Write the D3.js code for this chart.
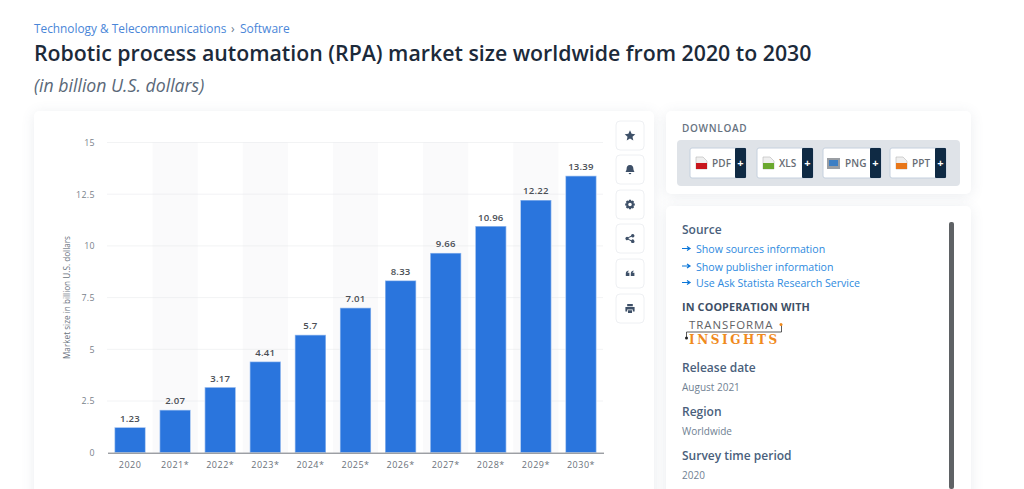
<!DOCTYPE html>
<html><head><meta charset="utf-8">
<script src="https://cdn.jsdelivr.net/npm/d3@7"></script>
<style>
html,body{margin:0;padding:0;background:#fff;overflow:hidden}
body{width:1024px;height:489px;position:relative;font-family:"Open Sans",sans-serif}
.card{position:absolute;background:#fff;border-radius:5px;box-shadow:0 2px 14px rgba(70,90,120,.11)}
svg{position:absolute;left:0;top:0}
text{font-family:"Open Sans",sans-serif}
</style></head><body>
<script>
const categories=["2020","2021*","2022*","2023*","2024*","2025*","2026*","2027*","2028*","2029*","2030*"];
const values=[1.23,2.07,3.17,4.41,5.7,7.01,8.33,9.66,10.96,12.22,13.39];
const valueLabels=["1.23","2.07","3.17","4.41","5.7","7.01","8.33","9.66","10.96","12.22","13.39"];
const yTicks=[0,2.5,5,7.5,10,12.5,15];
const downloads=[["PDF","#c8161d"],["XLS","#6aa82f"],["PNG","#3d7fc4"],["PPT","#e8771a"]];
const sourceLinks=["Show sources information","Show publisher information","Use Ask Statista Research Service"];

const body=d3.select("body");
[[34,111,620,400],[666,111,305,83],[666,206,305,300]].forEach(([x,y,w,h])=>{
  body.append("div").attr("class","card").style("left",x+"px").style("top",y+"px").style("width",w+"px").style("height",h+"px");
});
const svg=body.append("svg").attr("width",1024).attr("height",489);
const T=(x,y,s,size,fill,o={})=>svg.append("text").attr("x",x).attr("y",y).text(s)
  .attr("font-size",size).attr("fill",fill).attr("font-weight",o.w||400).attr("font-style",o.i||"normal")
  .attr("letter-spacing",o.ls||0).attr("text-anchor",o.a||"start");

T(34,33,"Technology & Telecommunications",11.85,"#4a86d8");
T(231,33,"›",12,"#6a7a8c");
T(240,33,"Software",12,"#4a86d8");
T(34,61,"Robotic process automation (RPA) market size worldwide from 2020 to 2030",21.3,"#1c2a3a",{w:600});
T(34,92,"(in billion U.S. dollars)",17.7,"#5a6878",{i:"italic"});

const x=d3.scaleBand().domain(categories).range([107.5,603.5]).paddingInner(0.31).paddingOuter(0.155);
const y=d3.scaleLinear().domain([0,15]).range([452.7,142.5]);
const band=x.step();
categories.forEach((c,i)=>{ if(i%2===1)
  svg.append("rect").attr("x",x(c)-band*0.155).attr("y",y(15)).attr("width",band).attr("height",y(0)-y(15)).attr("fill","#fafafb");
});
const g=svg.append("g");
const yAxis=d3.axisLeft(y).tickValues(yTicks).tickSize(0).tickPadding(0).tickFormat(d=>String(d));
const ya=g.append("g").attr("transform","translate(95,0)").call(yAxis);
ya.select(".domain").remove();
ya.selectAll("text").attr("font-size",8.8).attr("fill","#7a828c").attr("letter-spacing",.4).style("font-family",'"Open Sans",sans-serif');
g.selectAll("line.grid").data(yTicks.filter(d=>d>0)).join("line").attr("class","grid")
  .attr("x1",107.5).attr("x2",603.5).attr("y1",d=>y(d)).attr("y2",d=>y(d)).attr("stroke","#e4e6e9").attr("stroke-width",1).attr("stroke-dasharray","1 1");
g.selectAll("rect.bar").data(values).join("rect").attr("class","bar")
  .attr("x",(d,i)=>x(categories[i])).attr("width",x.bandwidth()).attr("y",d=>y(d)).attr("height",d=>y(0)-y(d)).attr("fill","#2a75dd")
  .attr("stroke","#fff").attr("stroke-opacity",.5).attr("stroke-width",1.4);
const xAxis=d3.axisBottom(x).tickSize(0).tickPadding(9);
const xa=g.append("g").attr("transform",`translate(0,${y(0)})`).call(xAxis);
xa.select(".domain").attr("stroke","#70757c").attr("stroke-width",1);
xa.selectAll("text").attr("font-size",9).attr("fill","#6a717a").attr("letter-spacing",.5).style("font-family",'"Open Sans",sans-serif');
g.selectAll("text.val").data(values).join("text").attr("class","val")
  .attr("x",(d,i)=>x(categories[i])+x.bandwidth()/2).attr("y",d=>y(d)-5.5).attr("text-anchor","middle")
  .attr("font-size",9.6).attr("font-weight",600).attr("fill","#4b4f56").attr("letter-spacing",.2).text((d,i)=>valueLabels[i]);
svg.append("text").attr("transform","translate(70,297.5) rotate(-90)").attr("text-anchor","middle")
  .attr("font-size",8.2).attr("fill","#6b7480").text("Market size in billion U.S. dollars");

const icons=[
 "M0 -5.2L1.6 -1.7L5.3 -1.3L2.5 1.2L3.3 5L0 3L-3.3 5L-2.5 1.2L-5.3 -1.3L-1.6 -1.7Z",
 "M0 -4.6C2.6 -4.6 3.4 -2.6 3.4 -.6C3.4 1 4.4 1.6 4.4 2.6H-4.4C-4.4 1.6 -3.4 1 -3.4 -.6C-3.4 -2.6 -2.6 -4.6 0 -4.6ZM-1.3 3.4H1.3A1.3 1.3 0 0 1 -1.3 3.4Z",
 "M-1 -4.8H1L1.3 -3.4L2.8 -4.1L4.1 -2.8L3.4 -1.3L4.8 -1V1L3.4 1.3L4.1 2.8L2.8 4.1L1.3 3.4L1 4.8H-1L-1.3 3.4L-2.8 4.1L-4.1 2.8L-3.4 1.3L-4.8 1V-1L-3.4 -1.3L-4.1 -2.8L-2.8 -4.1L-1.3 -3.4ZM0 -1.8A1.8 1.8 0 1 0 0 1.8A1.8 1.8 0 1 0 0 -1.8Z",
 "M2.8 -4.4A1.7 1.7 0 1 1 1.4 -1.7L-1.3 -.4A1.7 1.7 0 0 1 -1.3 .4L1.4 1.7A1.7 1.7 0 1 1 1 2.7L-1.8 1.3A1.7 1.7 0 1 1 -1.8 -1.3L1 -2.7A1.7 1.7 0 0 1 2.8 -4.4Z",
 "M-4.2 .2C-4.2 -1.6 -3.2 -2.6 -1.6 -3L-1.3 -2.2C-2 -1.9 -2.4 -1.4 -2.4 -.8H-.6V2.4H-4.2ZM.8 .2C.8 -1.6 1.8 -2.6 3.4 -3L3.7 -2.2C3 -1.9 2.6 -1.4 2.6 -.8H4.4V2.4H.8Z",
 "M-2.8 -4.6H2.8V-2.2H-2.8ZM-4.6 -1.4H4.6V3H2.8V1H-2.8V3H-4.6ZM-2 1.8H2V4.6H-2Z"];
const iconY=[136,170,205,239,274,309];
icons.forEach((d,i)=>{
  svg.append("rect").attr("x",616).attr("y",iconY[i]-15).attr("width",28).attr("height",29).attr("rx",4).attr("fill","#fff")
    .attr("stroke","#eef0f3").attr("stroke-width",1);
  svg.append("path").attr("d",d).attr("transform",`translate(630,${iconY[i]-.5})`).attr("fill","#3e5068").attr("fill-rule","evenodd");
});

T(682,132,"DOWNLOAD",10,"#66727f",{w:600,ls:.7});
svg.append("rect").attr("x",677).attr("y",140).attr("width",283).attr("height",46).attr("rx",4).attr("fill","#dfe3e8");
const bx=[690,757,823,890], bw=[56,56,58,56];
downloads.forEach(([lab,col],i)=>{
  const X=bx[i],W=bw[i];
  svg.append("rect").attr("x",X).attr("y",148).attr("width",W).attr("height",30).attr("rx",2).attr("fill","#fff").attr("stroke","#c5d0de");
  svg.append("rect").attr("x",X+W-11).attr("y",148).attr("width",11).attr("height",30).attr("rx",1).attr("fill","#0f2a44");
  T(X+W-5.5,166.5,"+",11,"#fff",{a:"middle",w:700});
  if(lab==="PNG"){
    svg.append("rect").attr("x",X+4).attr("y",158).attr("width",13).attr("height",11).attr("fill","#9a9ea3");
    svg.append("rect").attr("x",X+6).attr("y",160).attr("width",9).attr("height",6).attr("fill",col);
  }else{
    svg.append("path").attr("d",`M${X+6} 157H${X+13}L${X+17} 161V169H${X+6}Z`).attr("fill","#efefef").attr("stroke","#b5b5b5").attr("stroke-width",.6);
    svg.append("rect").attr("x",X+6).attr("y",163).attr("width",11).attr("height",6).attr("fill",col);
  }
  T(X+22,167,lab,10,"#666c73",{w:600,ls:.1});
});

T(682,234,"Source",12,"#4a5f7c",{w:600});
sourceLinks.forEach((s,i)=>{
  const Y=[253,270.5,287][i];
  svg.append("path").attr("d",`M682 ${Y-4.5}H689M687 ${Y-6.5}L690 ${Y-4.5}L687 ${Y-2.5}`).attr("stroke","#0b76d8").attr("fill","none").attr("stroke-width",1.2);
  T(696,Y,s,10.6,"#2e8ade");
});
svg.append("rect").attr("x",949).attr("y",222).attr("width",5).attr("height",267).attr("rx",2).attr("fill","#5f6265");
T(682,311,"IN COOPERATION WITH",10.8,"#3e4f66",{w:700,ls:.15});
T(689,329,"TRANSFORMA",11.4,"#5f6265",{ls:1});
svg.append("path").attr("d","M686.5 339V332H781.5V325").attr("fill","none").attr("stroke","#333").attr("stroke-width",.8);
svg.append("circle").attr("cx",686.5).attr("cy",338).attr("r",1.5).attr("fill","#222");
svg.append("circle").attr("cx",781).attr("cy",324.5).attr("r",1.5).attr("fill","#f08a1d");
T(689,343.5,"INSIGHTS",12,"#f08a1d",{w:700,ls:2.6}).style("font-family",'"DejaVu Serif",serif');
T(682,372,"Release date",12,"#4a5f7c",{w:600});
T(682,391,"August 2021",10,"#6f7f92");
T(682,416,"Region",12,"#4a5f7c",{w:600});
T(682,435,"Worldwide",10,"#6f7f92");
T(682,460,"Survey time period",12,"#4a5f7c",{w:600});
T(682,479,"2020",10,"#6f7f92");
</script>
</body></html>
